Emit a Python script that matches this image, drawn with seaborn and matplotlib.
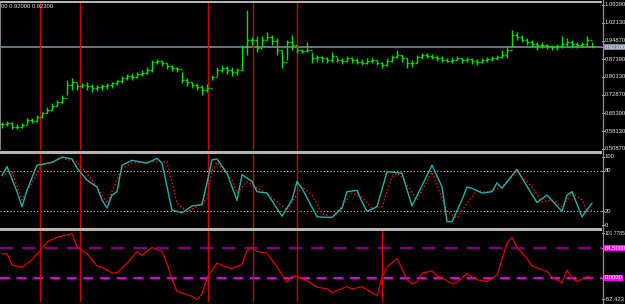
import matplotlib
matplotlib.use("Agg")
import matplotlib.pyplot as plt
from matplotlib.patches import Rectangle
from matplotlib.lines import Line2D
import numpy as np
import pandas as pd
import seaborn as sns

# ---------------- data ----------------
bar_high = [0.6184, 0.6225, 0.6184, 0.6103, 0.6143, 0.6347, 0.6347, 0.6469, 0.6590, 0.6794,
            0.6956, 0.7078, 0.7281, 0.7891, 0.7972, 0.7769, 0.7769, 0.7810, 0.7729, 0.7688,
            0.7729, 0.7769, 0.7810, 0.7891, 0.8054, 0.8135,
            0.8176, 0.8216, 0.8297, 0.8419, 0.8704, 0.8744, 0.8704, 0.8582, 0.8501, 0.8419,
            0.8216, 0.7972, 0.7810, 0.7769, 0.7688, 0.7729,
            0.8094, 0.8419, 0.8501, 0.8460, 0.8419, 0.8379, 0.9313, 1.0736, 0.9638, 0.9679,
            0.9679, 0.9842, 0.9720, 0.9598, 0.9110, 0.9517, 0.9720, 0.9232, 0.9151, 0.9435,
            0.9029, 0.8907, 0.8866, 0.8826, 0.9029, 0.8826, 0.8785, 0.8866, 0.8826, 0.8785,
            0.8744, 0.8785, 0.8826, 0.8704, 0.8623, 0.8785, 0.8907, 0.9110, 0.8907, 0.8785,
            0.8704, 0.8907, 0.8988, 0.8988, 0.8947, 0.8907, 0.8866, 0.8785, 0.8826, 0.8866,
            0.8785, 0.8826, 0.8785, 0.8744, 0.8785, 0.8826, 0.8866, 0.8907, 0.9110, 0.9232,
            0.9923, 0.9842, 0.9720, 0.9598, 0.9517, 0.9435, 0.9435, 0.9354, 0.9313, 0.9354,
            0.9679, 0.9598, 0.9517, 0.9435, 0.9435, 0.9679, 0.9435]
bar_low = [0.5940, 0.6022, 0.5900, 0.5900, 0.5940, 0.6103, 0.6143, 0.6184, 0.6347, 0.6550,
           0.6672, 0.6834, 0.6956, 0.7281, 0.7485, 0.7485, 0.7566, 0.7485, 0.7403, 0.7444,
           0.7485, 0.7525, 0.7566, 0.7688, 0.7769, 0.7891,
           0.7891, 0.7972, 0.8054, 0.8135, 0.8216, 0.8541, 0.8460, 0.8338, 0.8257, 0.8216,
           0.7769, 0.7647, 0.7566, 0.7485, 0.7281, 0.7403,
           0.7891, 0.8054, 0.8216, 0.8135, 0.8054, 0.8094, 0.8297, 0.8907, 0.9313, 0.9029,
           0.9273, 0.9517, 0.9313, 0.8907, 0.8379, 0.8704, 0.9110, 0.8988, 0.8988, 0.9029,
           0.8582, 0.8623, 0.8623, 0.8582, 0.8623, 0.8623, 0.8541, 0.8623, 0.8582, 0.8541,
           0.8501, 0.8541, 0.8582, 0.8501, 0.8379, 0.8460, 0.8623, 0.8785, 0.8623, 0.8379,
           0.8419, 0.8582, 0.8744, 0.8785, 0.8744, 0.8663, 0.8623, 0.8623, 0.8582, 0.8704,
           0.8582, 0.8623, 0.8541, 0.8501, 0.8582, 0.8623, 0.8663, 0.8704, 0.8785, 0.8785,
           0.9232, 0.9517, 0.9435, 0.9313, 0.9232, 0.9110, 0.9192, 0.9151, 0.9110, 0.9110,
           0.9192, 0.9273, 0.9192, 0.9192, 0.9232, 0.9273, 0.9232]
bar_close = [0.6103, 0.6143, 0.5981, 0.5981, 0.6062, 0.6265, 0.6225, 0.6387, 0.6550, 0.6672,
             0.6834, 0.6997, 0.7160, 0.7688, 0.7810, 0.7647, 0.7688, 0.7647, 0.7566, 0.7607,
             0.7647, 0.7688, 0.7769, 0.7850, 0.7972, 0.8054,
             0.8013, 0.8135, 0.8176, 0.8297, 0.8623, 0.8663, 0.8582, 0.8460, 0.8379, 0.8338,
             0.7891, 0.7810, 0.7688, 0.7607, 0.7485, 0.7566,
             0.8013, 0.8297, 0.8379, 0.8297, 0.8216, 0.8297, 0.9232, 0.9517, 0.9517, 0.9192,
             0.9517, 0.9638, 0.9476, 0.9110, 0.8623, 0.9435, 0.9313, 0.9110, 0.9070, 0.9110,
             0.8785, 0.8826, 0.8785, 0.8704, 0.8866, 0.8704, 0.8663, 0.8785, 0.8704, 0.8623,
             0.8582, 0.8663, 0.8704, 0.8582, 0.8501, 0.8663, 0.8826, 0.8907, 0.8785, 0.8582,
             0.8582, 0.8826, 0.8907, 0.8866, 0.8826, 0.8785, 0.8704, 0.8663, 0.8704, 0.8785,
             0.8704, 0.8744, 0.8663, 0.8623, 0.8704, 0.8744, 0.8785, 0.8826, 0.8907, 0.9110,
             0.9720, 0.9638, 0.9517, 0.9435, 0.9354, 0.9313, 0.9313, 0.9273, 0.9232, 0.9273,
             0.9354, 0.9435, 0.9354, 0.9313, 0.9354, 0.9517, 0.9230]

stoch_main_idx = [0, 1, 3, 4, 5, 7, 10, 12, 14, 15, 17, 19, 20, 21, 22, 23, 24, 26, 29, 31,
                  32, 34, 36, 38, 40, 41, 42, 43, 45, 47, 48, 50, 51, 53, 56, 58, 59, 60, 63, 66,
                  68, 69, 71, 72, 73, 75, 77, 78, 80, 82, 86, 88, 89, 90, 92, 93, 94, 96, 98, 99,
                  100, 103, 104, 107, 109, 112, 113, 114, 116, 118]
stoch_main_val = [73, 86, 49, 27, 51, 88, 92, 100, 97, 84, 66, 56, 37, 25, 44, 49, 88, 95, 91, 98,
                  91, 22, 18, 28, 30, 62, 96, 97, 76, 36, 74, 64, 49, 47, 13, 37, 64, 54, 12, 11,
                  25, 49, 51, 34, 20, 27, 78, 78, 76, 28, 88, 56, 5, 5, 37, 56, 54, 47, 49, 62,
                  54, 82, 69, 33, 44, 20, 44, 49, 12, 32]
stoch_sig_idx = [0, 2, 4, 8, 12, 15, 17, 19, 21, 24, 26, 30, 33, 35, 37, 39, 41, 42, 43, 46,
                 47, 49, 51, 53, 57, 60, 62, 64, 66, 68, 70, 72, 74, 76, 78, 79, 80, 83, 86, 89,
                 91, 93, 95, 97, 100, 103, 106, 108, 110, 112, 114, 116, 117, 118]
stoch_sig_val = [72, 78, 37, 88, 98, 93, 76, 56, 32, 84, 91, 93, 93, 32, 20, 27, 38, 80, 92, 66,
                 47, 64, 54, 47, 22, 56, 44, 17, 12, 27, 47, 41, 25, 27, 71, 76, 70, 37, 78, 20,
                 10, 32, 51, 48, 56, 78, 56, 34, 37, 27, 47, 37, 20, 22]
osc_idx = [0, 1, 2, 4, 6, 8, 9, 11, 14, 15, 17, 19, 20, 22, 23, 25, 27, 28, 30, 32,
           33, 34, 35, 38, 39, 40, 41, 43, 45, 46, 48, 49, 50, 51, 53, 55, 57, 58, 59, 61,
           63, 65, 66, 68, 69, 70, 72, 74, 75, 76, 77, 79, 80, 81, 82, 83, 84, 86, 87, 88,
           90, 91, 93, 95, 97, 99, 101, 102, 103, 105, 106, 109, 110, 112, 113, 114, 115, 116, 117, 118]
osc_val = [52, 53, 28, 23, 39, 64, 78, 88, 96, 67, 53, 26, 23, 11, 11, 32, 57, 49, 66, 57,
           32, -4, -29, -40, -47, -35, 0, 32, 23, 21, 28, 60, 66, 57, 54, 24, -10, 4, 3, -6,
           -20, -24, -32, -23, -19, -24, -19, -32, -39, 0, 24, 42, 20, -4, -13, -9, 10, 15, 4, 0,
           -13, -10, 9, -4, -8, 6, 75, 88, 67, 42, 26, 14, 2, -11, 17, 0, -8, -3, 3, 0]

price_ticks = [1.09390, 1.02130, 0.94870, 0.87390, 0.80130, 0.72870, 0.65390, 0.58130, 0.50870]
price_labels = ["1.09390", "1.02130", "0.94870", "0.87390", "0.80130", "0.72870", "0.65390",
                "0.58130", "0.50870"]
current_price = 0.92300
stoch_levels = [80, 20]
stoch_ticks = [100, 80, 20, 0]
osc_levels = [64.5, 0.0]
osc_range = [-52.423, 101.7785]
vlines_idx = [7.6, 15.6, 41.2, 50.2, 59.0]
osc_spike_idx = 76
header_text = "00 0.92000 0.92300"

# ---------------- figure ----------------
sns.set_theme(style="white")
plt.rcParams["font.family"] = ["Liberation Sans", "DejaVu Sans"]

W, H = 625, 304
fig = plt.figure(figsize=(W / 100, H / 100), dpi=100, facecolor="black")


def px_axes(x0, y0, x1, y1):
    return fig.add_axes([x0 / W, 1 - y1 / H, (x1 - x0) / W, (y1 - y0) / H])


ax1 = px_axes(0, 3, 602, 150)
ax2 = px_axes(0, 154, 602, 228)
ax3 = px_axes(0, 231, 602, 302)
for ax in (ax1, ax2, ax3):
    ax.set_facecolor("black")
    for s in ax.spines.values():
        s.set_visible(False)
    ax.set_xlim(-0.4, 120)

ax1.set_ylim(0.5046, 1.1020)
ax2.set_ylim(-4.4, 104.4)
ax3.set_ylim(osc_range[0], osc_range[1])

GREEN = "#00e000"
n = len(bar_close)
idx = np.arange(n)
opens = [bar_close[0]] + bar_close[:-1]
df = pd.DataFrame({"i": idx, "high": bar_high, "low": bar_low, "open": opens, "close": bar_close})

# price bars
ax1.axhline(current_price, color="#8494a6", lw=1.1, zorder=1)
ax1.vlines(df["i"], df["low"], df["high"], color=GREEN, lw=1.0, zorder=3)
ax1.hlines(df["open"], df["i"] - 0.4, df["i"], color=GREEN, lw=1.0, zorder=3)
ax1.hlines(df["close"], df["i"], df["i"] + 0.4, color=GREEN, lw=1.0, zorder=3)

# stochastic
sdf_main = pd.DataFrame({"i": stoch_main_idx, "v": stoch_main_val})
sdf_sig = pd.DataFrame({"i": stoch_sig_idx, "v": stoch_sig_val})
for lv in stoch_levels:
    ax2.axhline(lv, color="#c8c8c8", lw=0.8, linestyle=(0, (1, 2)), zorder=1)
sns.lineplot(data=sdf_sig, x="i", y="v", ax=ax2, color="#ff1010", lw=1.0,
             linestyle=(0, (1, 1.6)), zorder=2)
sns.lineplot(data=sdf_main, x="i", y="v", ax=ax2, color="#20b2aa", lw=1.0, zorder=3)

# oscillator
odf = pd.DataFrame({"i": osc_idx, "v": osc_val})
ax3.axhline(osc_levels[0], color="#800080", lw=1.6, linestyle=(0, (6, 4)), zorder=1)
ax3.axhline(osc_levels[1], color="#ff00ff", lw=1.2, linestyle=(0, (6, 4)), zorder=1)
sns.lineplot(data=odf, x="i", y="v", ax=ax3, color="#e00000", lw=0.9, zorder=3)
ax3.axvline(osc_spike_idx, color="#e00000", lw=1.0, zorder=3)

for ax in (ax1, ax2, ax3):
    for v in vlines_idx:
        ax.axvline(v, color="#d00000", lw=1.0, zorder=2)
    ax.set_xlabel("")
    ax.set_ylabel("")
    ax.set_xticks([])
    ax.set_yticks([])

# separators and borders
GRAY = "#b4b4b4"
fig.add_artist(Rectangle((0, 1 - 2.5 / H), 602 / W, 2 / H, transform=fig.transFigure,
                         color=GRAY, lw=0))
fig.add_artist(Rectangle((0, 1 - 153.5 / H), 602 / W, 3 / H, transform=fig.transFigure,
                         color=GRAY, lw=0))
fig.add_artist(Rectangle((0, 1 - 230.5 / H), 602 / W, 3 / H, transform=fig.transFigure,
                         color=GRAY, lw=0))
fig.add_artist(Rectangle((0, 1 - 150 / H), 1.5 / W, 147 / H, transform=fig.transFigure,
                         color="#808080", lw=0))
fig.add_artist(Line2D([602.5 / W, 602.5 / W], [0, 1], transform=fig.transFigure,
                      color="#909090", lw=0.9))

FS = 4.2
TXT = "#e8e8e8"


def right_label(ax, v, s, color=TXT, bg=None, fs=FS):
    tr = ax.get_yaxis_transform()
    ax.plot([1.0, 1.0 + 2 / 602], [v, v], transform=tr, color="#c0c0c0", lw=0.8, clip_on=False)
    kw = dict(transform=tr, fontsize=fs, color=color, va="center", ha="left", clip_on=False)
    if bg is not None:
        kw["bbox"] = dict(boxstyle="square,pad=0.1", fc=bg, ec="none")
    ax.text(1.0 + 3 / 602, v, s, **kw)


for v, s in zip(price_ticks, price_labels):
    right_label(ax1, v, s)
right_label(ax1, current_price, "0.92300", color="#f0f0f0", bg="#7a8a9c")
for v in stoch_ticks:
    right_label(ax2, v, str(v))
right_label(ax3, 97.0, "101.7785", fs=3.6)
right_label(ax3, osc_levels[0], "64.5000", color="#ffffff", bg="#ff00ff")
right_label(ax3, osc_levels[1], "0.0000", color="#ffffff", bg="#ff00ff")
right_label(ax3, -46.0, "-52.423")

fig.text(1 / W, 1 - 7 / H, header_text, fontsize=FS, color=TXT, va="center", ha="left")

fig.savefig("out.png", dpi=100, facecolor="black")
